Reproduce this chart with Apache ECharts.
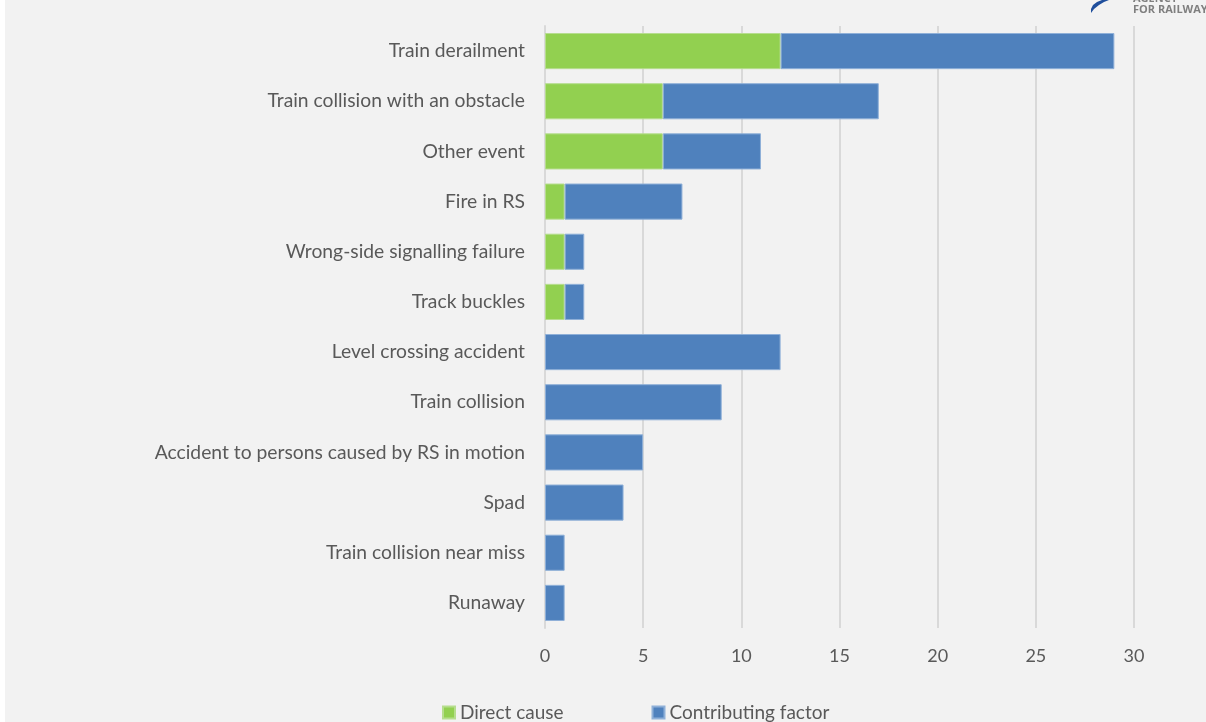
<!DOCTYPE html>
<html>
<head>
<meta charset="utf-8">
<script src="https://cdn.jsdelivr.net/npm/echarts@6/dist/echarts.min.js"></script>
<style>
  html, body { margin: 0; padding: 0; background: #ffffff; }
  #chart { width: 1206px; height: 722px; }
</style>
</head>
<body>
<div id="chart"></div>
<script>
// Occurrence types, listed top to bottom
const categories = [
  'Train derailment',
  'Train collision with an obstacle',
  'Other event',
  'Fire in RS',
  'Wrong-side signalling failure',
  'Track buckles',
  'Level crossing accident',
  'Train collision',
  'Accident to persons caused by RS in motion',
  'Spad',
  'Train collision near miss',
  'Runaway'
];
const directCause = [12, 6, 6, 1, 1, 1, 0, 0, 0, 0, 0, 0];
const contributingFactor = [17, 11, 5, 6, 1, 1, 12, 9, 5, 4, 1, 1];
const xTicks = [0, 5, 10, 15, 20, 25, 30];

const FONT = 'Lato, "Open Sans", sans-serif';
const TEXT = '#595959';

// zero counts are left empty so no sliver of border is drawn
const asBar = v => (v === 0 ? '-' : v);

const chart = echarts.init(document.getElementById('chart'), null, { renderer: 'canvas' });

chart.setOption({
  backgroundColor: '#f2f2f2',
  animation: false,
  textStyle: { fontFamily: FONT },
  grid: { left: 545, right: 72, top: 26, bottom: 94, containLabel: false },
  legend: {
    top: 698,
    left: 437,
    itemWidth: 12,
    itemHeight: 12,
    itemGap: 88,
    icon: 'rect',
    textStyle: { color: TEXT, fontSize: 19, fontFamily: FONT },
    data: ['Direct cause', 'Contributing factor']
  },
  xAxis: {
    type: 'value',
    min: xTicks[0],
    max: xTicks[xTicks.length - 1],
    interval: xTicks[1] - xTicks[0],
    axisLine: { show: false },
    axisTick: { show: false },
    axisLabel: { color: TEXT, fontSize: 18, margin: 19, fontFamily: FONT },
    splitLine: { show: true, lineStyle: { color: '#d9d9d9', width: 2 } }
  },
  yAxis: {
    type: 'category',
    inverse: true,
    data: categories,
    axisLine: { show: true, lineStyle: { color: '#d9d9d9', width: 2 } },
    axisTick: { show: false },
    axisLabel: { color: TEXT, fontSize: 19.3, margin: 20, fontFamily: FONT }
  },
  series: [
    {
      name: 'Direct cause',
      type: 'bar',
      stack: 'total',
      barCategoryGap: '28%',
      data: directCause.map(asBar),
      itemStyle: { color: '#92d050', borderColor: '#b6dd8e', borderWidth: 1 }
    },
    {
      name: 'Contributing factor',
      type: 'bar',
      stack: 'total',
      barCategoryGap: '28%',
      data: contributingFactor.map(asBar),
      itemStyle: { color: '#4f81bd', borderColor: '#8fb0d8', borderWidth: 1 }
    }
  ],
  graphic: [
    { type: 'rect', left: 0, top: 0, shape: { width: 5, height: 722 }, style: { fill: '#ffffff' }, silent: true },
    {
      type: 'polygon', silent: true,
      shape: { points: [[1091, 13], [1094, 9], [1099, 5], [1104, 2], [1109, 0], [1102, 0], [1097, 2], [1093, 5], [1091, 9]] },
      style: { fill: '#1f4e9c' }
    },
    {
      type: 'text', left: 1133, top: -7, silent: true,
      style: { text: 'AGENCY', fill: '#7f7f7f', font: 'bold 11px "Open Sans", sans-serif' }
    },
    {
      type: 'text', left: 1133, top: 4, silent: true,
      style: { text: 'FOR RAILWAYS', fill: '#7f7f7f', font: 'bold 11px "Open Sans", sans-serif' }
    }
  ]
});
</script>
</body>
</html>
